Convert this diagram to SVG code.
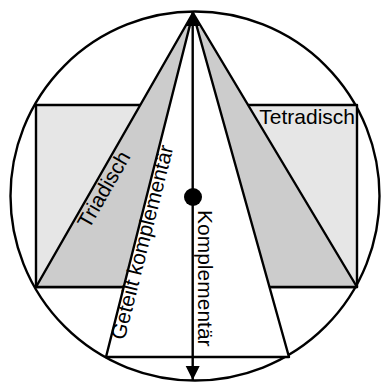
<svg xmlns="http://www.w3.org/2000/svg" width="382" height="383" viewBox="0 0 382 383">
<style>
.ln{stroke:#000;stroke-width:2.4;stroke-linejoin:round}
.lbl{font-family:"Liberation Sans",Arial,sans-serif;font-size:21px;fill:#000}
</style>
<defs>
<marker id="ah" viewBox="0 0 14 16" refX="14" refY="8" markerWidth="14" markerHeight="16" markerUnits="userSpaceOnUse" orient="auto-start-reverse">
<path d="M0,1 L14,8 L0,15 Z" fill="#000"/>
</marker>
</defs>
<rect width="382" height="383" fill="#fff"/>
<g id="wheel"><circle cx="195" cy="196" r="184.5" fill="#fff" class="ln"/></g>
<g id="tetradic"><rect x="36" y="105" width="321" height="182" fill="#e6e6e6" class="ln"/></g>
<g id="triadic"><polygon points="193,13 36,287 357,287" fill="#cccccc" class="ln"/></g>
<g id="split"><polygon points="193,13 106,357 289,357" fill="#fff" class="ln"/></g>
<g id="connectors">
<line x1="192.7" y1="12" x2="192.7" y2="380" class="ln" marker-start="url(#ah)" marker-end="url(#ah)"/>
</g>
<g id="center"><circle cx="193" cy="197" r="9" fill="#000"/></g>
<g id="labels">
<text class="lbl" x="355" y="124" text-anchor="end">Tetradisch</text>
<text class="lbl" x="110" y="193" text-anchor="middle" transform="rotate(-60.2 110 193)">Triadisch</text>
<text class="lbl" x="149" y="244" text-anchor="middle" transform="rotate(-75.8 149 244)">Geteilt komplementär</text>
<text class="lbl" x="198" y="210" transform="rotate(90 198 210)">Komplementär</text>
</g>
</svg>
